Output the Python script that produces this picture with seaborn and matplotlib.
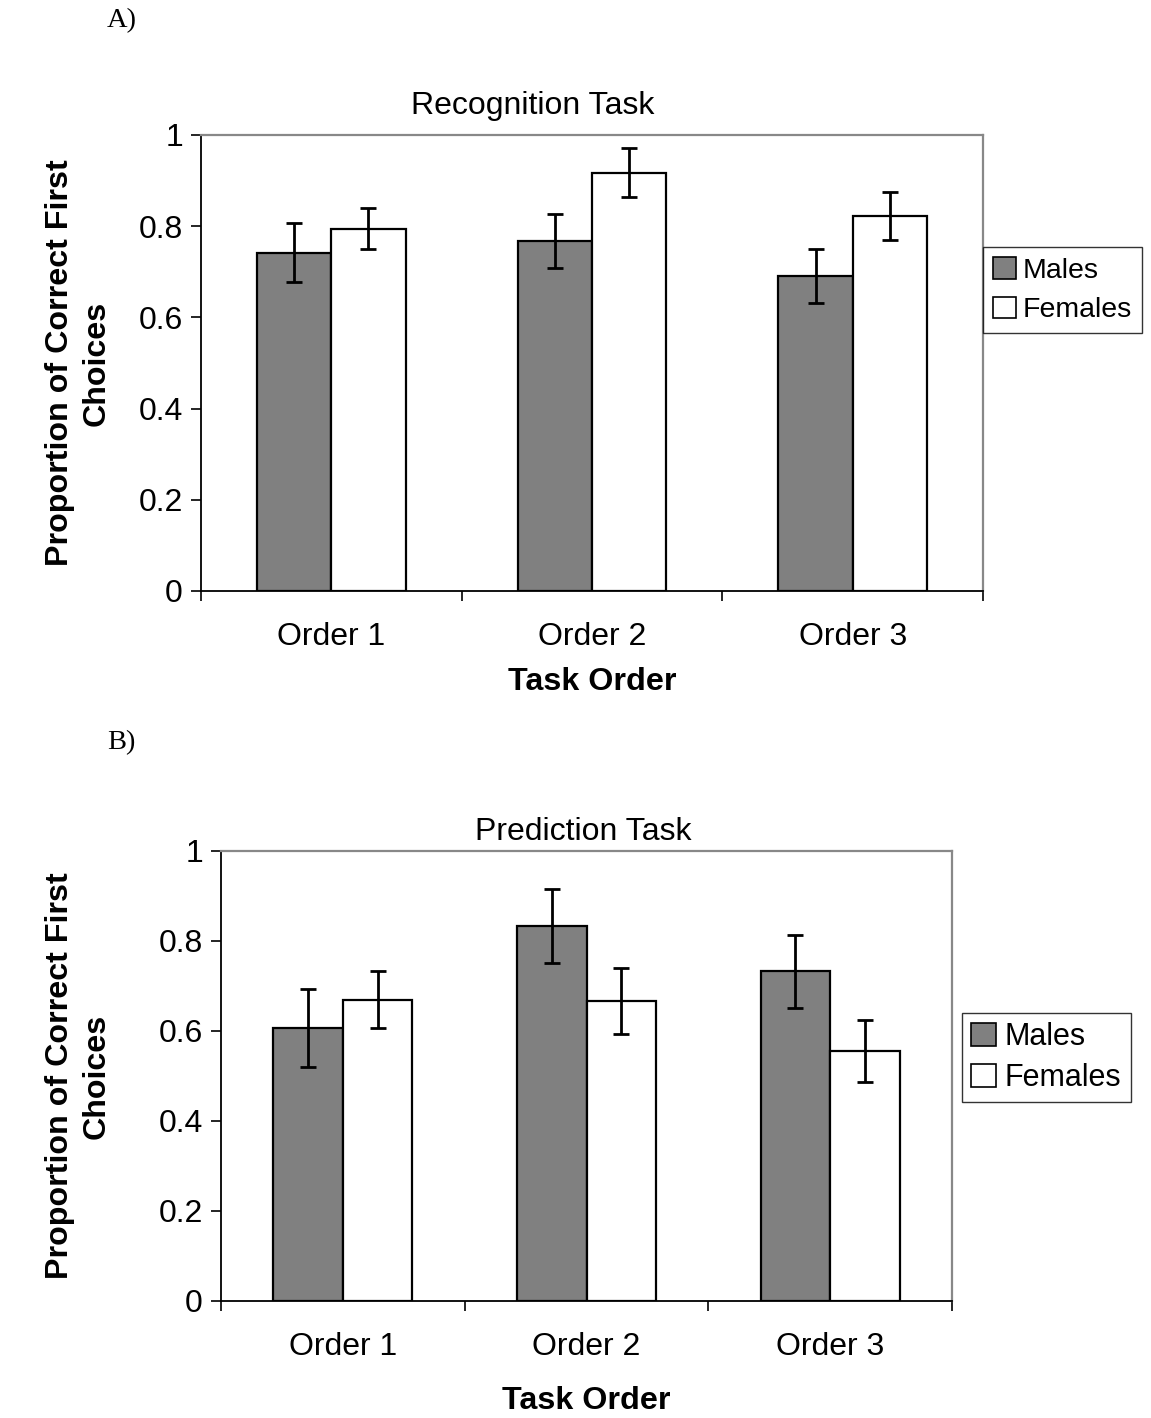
import matplotlib
matplotlib.use("Agg")
import matplotlib.pyplot as plt
import seaborn as sns
import pandas as pd
from matplotlib.patches import Patch

sns.set_theme(style="white")
plt.rcParams['font.family'] = ['Liberation Sans', 'DejaVu Sans']
plt.rcParams['text.color'] = 'black'
plt.rcParams['axes.labelcolor'] = 'black'
plt.rcParams['xtick.color'] = 'black'
plt.rcParams['ytick.color'] = 'black'

orders = ["Order 1", "Order 2", "Order 3"]
sexes = ["Males", "Females"]

# Panel A: Recognition Task
rec_males = [0.742, 0.767, 0.690]
rec_females = [0.794, 0.917, 0.822]
rec_males_err = [0.064, 0.059, 0.059]
rec_females_err = [0.045, 0.054, 0.052]

# Panel B: Prediction Task
pred_males = [0.607, 0.833, 0.733]
pred_females = [0.670, 0.667, 0.556]
pred_males_err = [0.087, 0.082, 0.081]
pred_females_err = [0.063, 0.074, 0.069]

yticks = [0, 0.2, 0.4, 0.6, 0.8, 1]
ytick_labels = ["0", "0.2", "0.4", "0.6", "0.8", "1"]

palette = {"Males": "#808080", "Females": "#ffffff"}

W, H = 1151, 1418
fig = plt.figure(figsize=(W / 100, H / 100), dpi=100)


def make_df(m, f):
    rows = []
    for o, v in zip(orders, m):
        rows.append({"order": o, "sex": "Males", "value": v})
    for o, v in zip(orders, f):
        rows.append({"order": o, "sex": "Females", "value": v})
    return pd.DataFrame(rows)


def panel(rect, m, f, me, fe, fs=23):
    ax = fig.add_axes(rect)
    df = make_df(m, f)
    sns.barplot(data=df, x="order", y="value", hue="sex", order=orders,
                hue_order=sexes, palette=palette, width=0.57, gap=0,
                edgecolor="black", linewidth=1.6, errorbar=None,
                legend=False, ax=ax)
    errs = {"Males": me, "Females": fe}
    vals = {"Males": m, "Females": f}
    bars = [p for p in ax.patches]
    k = 0
    for s in sexes:
        for i in range(len(orders)):
            p = bars[k]
            k += 1
            xc = p.get_x() + p.get_width() / 2
            ax.errorbar(xc, vals[s][i], yerr=errs[s][i], fmt="none",
                        ecolor="black", elinewidth=2, capsize=6, capthick=2)
    ax.set_xlim(-0.5, 2.5)
    ax.set_ylim(0, 1)
    ax.set_yticks(yticks)
    ax.set_yticklabels(ytick_labels, fontsize=fs)
    ax.set_xticks([0, 1, 2])
    ax.set_xticklabels(orders, fontsize=fs)
    ax.set_xticks([-0.5, 0.5, 1.5, 2.5], minor=True)
    ax.tick_params(axis="x", which="major", length=0, pad=22)
    ax.tick_params(axis="x", which="minor", length=7, width=1.2,
                   color="black", direction="out", bottom=True)
    ax.tick_params(axis="y", length=7, width=1.2, color="black",
                   direction="out", left=True, pad=6)
    ax.set_xlabel("")
    ax.set_ylabel("")
    for side in ["left", "bottom"]:
        ax.spines[side].set_color("black")
        ax.spines[side].set_linewidth(1.3)
    for side in ["top", "right"]:
        ax.spines[side].set_color("#888888")
        ax.spines[side].set_linewidth(1.6)
    ax.set_facecolor("white")
    return ax


axA = panel([201 / W, 1 - 591 / H, 782 / W, 456 / H],
            rec_males, rec_females, rec_males_err, rec_females_err)
axB = panel([221 / W, 1 - 1301 / H, 731 / W, 450 / H],
            pred_males, pred_females, pred_males_err, pred_females_err)

# titles
fig.text(533 / W, 1 - 106 / H, "Recognition Task", ha="center", va="center",
         fontsize=23)
fig.text(583 / W, 1 - 832 / H, "Prediction Task", ha="center", va="center",
         fontsize=23)

# axis labels
ylab = "Proportion of Correct First\nChoices"
fig.text(78 / W, 1 - 363 / H, ylab, rotation=90, ha="center", va="center",
         fontsize=23.2, fontweight="bold", multialignment="center",
         linespacing=1.3)
fig.text(78 / W, 1 - 1076 / H, ylab, rotation=90, ha="center", va="center",
         fontsize=23.2, fontweight="bold", multialignment="center",
         linespacing=1.3)
fig.text(592 / W, 1 - 682 / H, "Task Order", ha="center", va="center",
         fontsize=23.2, fontweight="bold")
fig.text(586 / W, 1 - 1401 / H, "Task Order", ha="center", va="center",
         fontsize=23.2, fontweight="bold")

# panel letters
fig.text(107 / W, 1 - 21 / H, "A)", ha="left", va="center", fontsize=20.5,
         family=["Liberation Serif", "DejaVu Serif"])
fig.text(107 / W, 1 - 743 / H, "B)", ha="left", va="center", fontsize=20.5,
         family=["Liberation Serif", "DejaVu Serif"])

# legends
handles = [Patch(facecolor=palette[s], edgecolor="black", linewidth=1.2, label=s)
           for s in sexes]
legA = fig.legend(handles=handles, loc="upper left",
                  bbox_to_anchor=(983 / W, 1 - 247 / H), borderaxespad=0,
                  fontsize=20.5, frameon=True, fancybox=False, handlelength=0.8,
                  handleheight=0.8, handletextpad=0.25, labelspacing=0.45,
                  borderpad=0.35)
legA.get_frame().set_edgecolor("black")
legA.get_frame().set_linewidth(1.0)
legB = fig.legend(handles=handles, loc="upper left",
                  bbox_to_anchor=(962 / W, 1 - 1013 / H), borderaxespad=0,
                  fontsize=22, frameon=True, fancybox=False, handlelength=0.8,
                  handleheight=0.8, handletextpad=0.3, labelspacing=0.35,
                  borderpad=0.3)
legB.get_frame().set_edgecolor("black")
legB.get_frame().set_linewidth(1.0)

fig.savefig("out.png", dpi=100, facecolor="white")
